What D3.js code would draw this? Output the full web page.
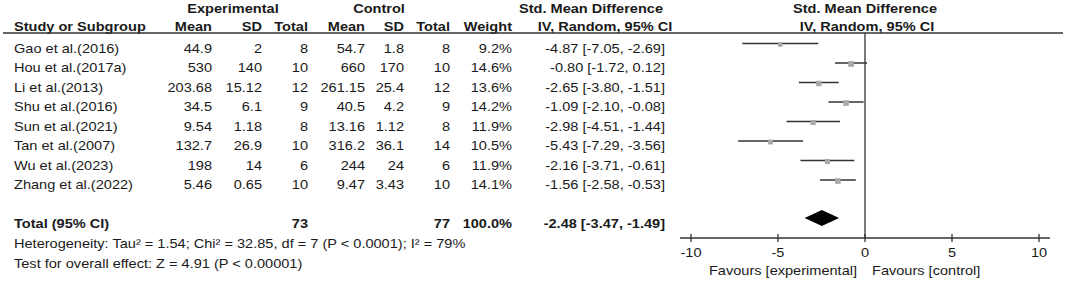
<!DOCTYPE html>
<html>
<head>
<meta charset="utf-8">
<script src="https://cdn.jsdelivr.net/npm/d3@7"></script>
<style>
  html, body { margin: 0; padding: 0; background: #fff; }
  svg { display: block; }
  text { font-family: "Liberation Sans", Arial, sans-serif; font-size: 13px; fill: #1a1a1a; }
</style>
</head>
<body>
<svg id="chart" width="1065" height="284"></svg>
<script>
// ---------------- DATA ----------------
const studies   = ["Gao et al.(2016)", "Hou et al.(2017a)", "Li et al.(2013)", "Shu et al.(2016)",
                   "Sun et al.(2021)", "Tan et al.(2007)", "Wu et al.(2023)", "Zhang et al.(2022)"];
const expMean   = ["44.9", "530", "203.68", "34.5", "9.54", "132.7", "198", "5.46"];
const expSD     = ["2", "140", "15.12", "6.1", "1.18", "26.9", "14", "0.65"];
const expTotal  = [8, 10, 12, 9, 8, 10, 6, 10];
const ctrlMean  = ["54.7", "660", "261.15", "40.5", "13.16", "316.2", "244", "9.47"];
const ctrlSD    = ["1.8", "170", "25.4", "4.2", "1.12", "36.1", "24", "3.43"];
const ctrlTotal = [8, 10, 12, 9, 8, 14, 6, 10];
const weights   = [9.2, 14.6, 13.6, 14.2, 11.9, 10.5, 11.9, 14.1];
const smd       = [-4.87, -0.80, -2.65, -1.09, -2.98, -5.43, -2.16, -1.56];
const ciLow     = [-7.05, -1.72, -3.80, -2.10, -4.51, -7.29, -3.71, -2.58];
const ciHigh    = [-2.69, 0.12, -1.51, -0.08, -1.44, -3.56, -0.61, -0.53];
const total     = { label: "Total (95% CI)", expN: 73, ctrlN: 77, weight: "100.0%", est: -2.48, lo: -3.47, hi: -1.49 };
const heterogeneity = "Heterogeneity: Tau\u00B2 = 1.54; Chi\u00B2 = 32.85, df = 7 (P < 0.0001); I\u00B2 = 79%";
const overallTest   = "Test for overall effect: Z = 4.91 (P < 0.00001)";
const axisTicks  = [-10, -5, 0, 5, 10];
const favourLeft = "Favours [experimental]";
const favourRight = "Favours [control]";

// ---------------- DRAW ----------------
const SX = 1.12;               // horizontal text stretch of the reference
const svg = d3.select("#chart");

function txt(x, y, s, anchor, bold) {
  return svg.append("text")
    .attr("transform", `translate(${x},${y}) scale(${SX},1)`)
    .attr("text-anchor", anchor || "start")
    .style("font-weight", bold ? "bold" : "normal")
    .text(s);
}

const fmt = v => (v < 0 ? "-" : "") + Math.abs(v).toFixed(2);
const ciText = (e, l, h) => `${fmt(e)} [${fmt(l)}, ${fmt(h)}]`;

// forest scale
const x = d3.scaleLinear().domain([-10, 10]).range([691, 1039]);
const rowY = d3.scaleLinear().domain([0, studies.length - 1]).range([52.5, 189]);
const sqSize = d3.scaleSqrt().domain([0, 15]).range([0, 5.8]);

// column right edges
const col = { expMean: 212, expSD: 262, expN: 308, ctrlMean: 365, ctrlSD: 404, ctrlN: 450, weight: 512, ci: 665 };

// headers
txt(233, 12.5, "Experimental", "middle", true);
txt(379, 12.5, "Control", "middle", true);
txt(591, 12.5, "Std. Mean Difference", "middle", true);
txt(x(0), 12.5, "Std. Mean Difference", "middle", true);
txt(14, 31, "Study or Subgroup", "start", true);
txt(col.expMean, 31, "Mean", "end", true);
txt(col.expSD, 31, "SD", "end", true);
txt(col.expN, 31, "Total", "end", true);
txt(col.ctrlMean, 31, "Mean", "end", true);
txt(col.ctrlSD, 31, "SD", "end", true);
txt(col.ctrlN, 31, "Total", "end", true);
txt(col.weight, 31, "Weight", "end", true);
txt(605, 31, "IV, Random, 95% CI", "middle", true);
txt(x(0) + 2, 31, "IV, Random, 95% CI", "middle", true);

// header rule
svg.append("line").attr("x1", 3).attr("x2", 1063).attr("y1", 33).attr("y2", 33)
  .attr("stroke", "#333").attr("stroke-width", 1.3);

// zero line
const axisY = 238;
svg.append("line").attr("x1", x(0)).attr("x2", x(0)).attr("y1", 33).attr("y2", axisY)
  .attr("stroke", "#333").attr("stroke-width", 1.3);

// study rows
studies.forEach((s, i) => {
  const y = rowY(i);
  txt(14, y, s, "start");
  txt(col.expMean, y, expMean[i], "end");
  txt(col.expSD, y, expSD[i], "end");
  txt(col.expN, y, expTotal[i], "end");
  txt(col.ctrlMean, y, ctrlMean[i], "end");
  txt(col.ctrlSD, y, ctrlSD[i], "end");
  txt(col.ctrlN, y, ctrlTotal[i], "end");
  txt(col.weight, y, weights[i].toFixed(1) + "%", "end");
  txt(col.ci, y, ciText(smd[i], ciLow[i], ciHigh[i]), "end");

  const cy = y - 9;
  svg.append("line").attr("x1", x(ciLow[i])).attr("x2", x(ciHigh[i])).attr("y1", cy).attr("y2", cy)
    .attr("stroke", "#333").attr("stroke-width", 1.3);
  const sz = sqSize(weights[i]);
  svg.append("rect").attr("x", x(smd[i]) - sz / 2).attr("y", cy + 1 - sz / 2)
    .attr("width", sz).attr("height", sz).attr("fill", "#a9a9a9");
});

// total row
const totY = 227.5;
txt(14, totY, total.label, "start", true);
txt(col.expN, totY, total.expN, "end", true);
txt(col.ctrlN, totY, total.ctrlN, "end", true);
txt(col.weight, totY, total.weight, "end", true);
txt(col.ci, totY, ciText(total.est, total.lo, total.hi), "end", true);

const dy = 218, dh = 8;
svg.append("path")
  .attr("d", `M${x(total.lo)},${dy} L${x(total.est)},${dy - dh} L${x(total.hi)},${dy} L${x(total.est)},${dy + dh} Z`)
  .attr("fill", "#000");

// footer texts
txt(14, 247.5, heterogeneity, "start");
txt(14, 267.5, overallTest, "start");

// axis
svg.append("line").attr("x1", x(-10.63)).attr("x2", x(10.63)).attr("y1", axisY).attr("y2", axisY)
  .attr("stroke", "#333").attr("stroke-width", 1.3);
axisTicks.forEach(t => {
  svg.append("line").attr("x1", x(t)).attr("x2", x(t)).attr("y1", axisY - 4).attr("y2", axisY + 4)
    .attr("stroke", "#333").attr("stroke-width", 1.3);
  txt(x(t), 256.5, String(t), "middle");
});
txt(x(0) - 8, 274.5, favourLeft, "end");
txt(x(0) + 7, 274.5, favourRight, "start");
</script>
</body>
</html>
